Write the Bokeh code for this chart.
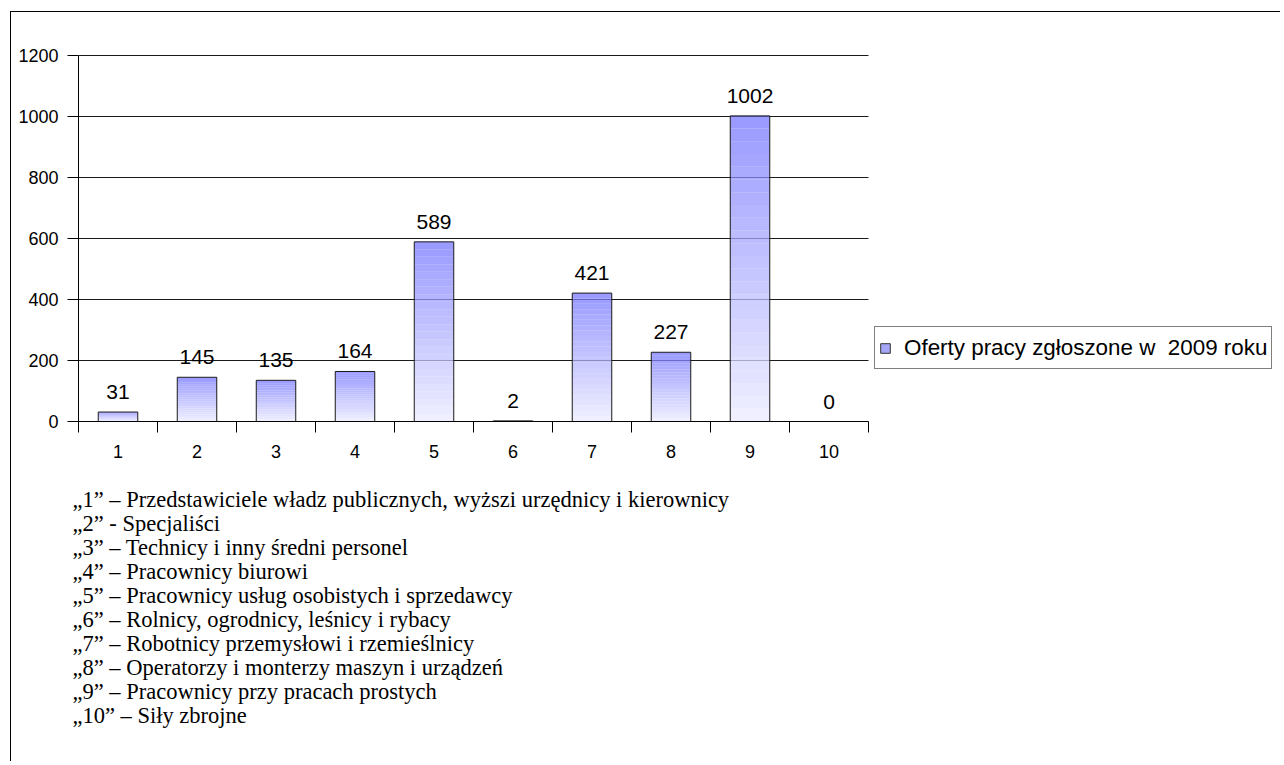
from bokeh.plotting import figure
from bokeh.models import (ColumnDataSource, LabelSet, Legend, LegendItem,
                          FixedTicker, Title)
from bokeh.embed import file_html
from bokeh.resources import INLINE
from bokeh.core.properties import value

# ---------------- data ----------------
categories = [1, 2, 3, 4, 5, 6, 7, 8, 9, 10]
offers = [31, 145, 135, 164, 589, 2, 421, 227, 1002, 0]
series_name = "Oferty pracy zgłoszone w  2009 roku"
y_ticks = [0, 200, 400, 600, 800, 1000, 1200]
descriptions = [
    "„1” – Przedstawiciele władz publicznych, wyższi urzędnicy i kierownicy",
    "„2” - Specjaliści",
    "„3” – Technicy i inny średni personel",
    "„4” – Pracownicy biurowi",
    "„5” – Pracownicy usług osobistych i sprzedawcy",
    "„6” – Rolnicy, ogrodnicy, leśnicy i rybacy",
    "„7” – Robotnicy przemysłowi i rzemieślnicy",
    "„8” – Operatorzy i monterzy maszyn i urządzeń",
    "„9” – Pracownicy przy pracach prostych",
    "„10” – Siły zbrojne",
]

# ---------------- layout (page pixels) ----------------
OX, OY = 11, 12                     # canvas origin on the page (margin + border)
W, H = 1270, 750
AX_L, AX_R, AX_T, AX_B = 78, 868, 55, 421   # plot area of the bar chart
PAD_T = 10                          # extra room above the top gridline
ymin, ymax = y_ticks[0], y_ticks[-1]
xlo, xhi = categories[0] - 0.5, categories[-1] + 0.5
px_per_cat = (AX_R - AX_L) / (xhi - xlo)
px_per_unit = (AX_B - AX_T) / (ymax - ymin)
frame_w = W - (AX_L - OX)

p = figure(width=W, height=H,
           x_range=(xlo, xlo + frame_w / px_per_cat),
           y_range=(ymin, ymax + PAD_T / px_per_unit),
           output_backend="svg", toolbar_location=None, title=None,
           min_border_left=AX_L - OX, min_border_right=0,
           min_border_top=AX_T - OY - PAD_T, min_border_bottom=H - (AX_B - OY))
p.outline_line_color = None
p.background_fill_color = "white"
p.border_fill_color = "white"
p.styles = {"margin-left": "10px", "margin-top": "11px",
            "border-left": "1px solid black", "border-top": "1px solid black"}

# horizontal gridlines limited to the category span
p.segment(x0=[xlo] * len(y_ticks), x1=[xhi] * len(y_ticks), y0=y_ticks, y1=y_ticks,
          line_color="#1a1a1a", line_width=1)
p.xgrid.visible = False
p.ygrid.visible = False

# gradient bars (sliced)
N = 24
top_c = (119, 119, 255)
bot_c = (235, 235, 255)
xs, bots, tops, cols = [], [], [], []
for c, v in zip(categories, offers):
    for k in range(N):
        t = (k + 0.5) / N
        rgb = tuple(int(round(b + (tc - b) * t)) for b, tc in zip(bot_c, top_c))
        xs.append(c)
        bots.append(v * k / N)
        tops.append(v * (k + 1) / N)
        cols.append("#%02x%02x%02x" % rgb)
p.vbar(x=xs, bottom=bots, top=tops, width=0.5, fill_color=cols,
       fill_alpha=0.75, line_color=None)
p.vbar(x=categories, top=offers, width=0.5, fill_color=None,
       line_color="#1a1a1a", line_width=1)

# hidden renderer that only supplies the legend swatch
leg_r = p.vbar(x=categories, top=offers, width=0.5,
               fill_color="#a6a6f8", line_color="#333333", visible=False)

# data labels
src = ColumnDataSource(dict(x=categories, y=offers, t=[str(v) for v in offers]))
p.add_layout(LabelSet(x="x", y="y", text="t", source=src, y_offset=20,
                      text_align="center", text_baseline="middle",
                      text_font=value("Liberation Sans"), text_font_size="21px",
                      text_color="black"))

# axes
p.xaxis.ticker = FixedTicker(ticks=categories,
                             minor_ticks=[c - 0.5 for c in categories] + [xhi])
p.xaxis.bounds = (xlo, xhi)
p.xaxis.major_tick_out = 0
p.xaxis.major_tick_in = 0
p.xaxis.minor_tick_out = 11
p.xaxis.minor_tick_in = 0
p.xaxis.minor_tick_line_color = "black"
p.xaxis.major_label_standoff = 12

p.yaxis.ticker = FixedTicker(ticks=y_ticks)
p.yaxis.bounds = (ymin, ymax)
p.yaxis.major_tick_out = 11
p.yaxis.major_tick_in = 0
p.yaxis.minor_tick_out = 0
p.yaxis.minor_tick_in = 0
p.yaxis.major_label_standoff = 9

for ax in (p.xaxis, p.yaxis):
    ax.axis_line_color = "black"
    ax.major_tick_line_color = "black"
    ax.major_label_text_font = "Liberation Sans"
    ax.major_label_text_font_size = "18px"
    ax.major_label_text_color = "black"

# legend (inside the wide frame, right of the bars); location = bottom-left corner
legend = Legend(items=[LegendItem(label=series_name, renderers=[leg_r])],
                location=(874 - AX_L, AX_B - 369),
                border_line_color="black", border_line_width=1,
                background_fill_color="white", background_fill_alpha=1,
                inactive_fill_alpha=0,
                padding=4, margin=0, spacing=0,
                glyph_width=12, glyph_height=12, label_standoff=13,
                label_height=33,
                label_text_font="Liberation Sans",
                label_text_font_size="22.4px",
                label_text_color="black")
p.add_layout(legend)

# description lines below the axis
FS = 22.5
h_txt = 1.1 * FS
line_gap = 23.85
s_line = line_gap - 2 - h_txt
p.add_layout(Title(text=" ", align="left", offset=0,
                   standoff=25.95 - 2 - h_txt,
                   text_font="Liberation Serif", text_font_size=f"{FS}px",
                   text_font_style="normal"), "below")
for txt in descriptions:
    p.add_layout(Title(text=txt, align="left", offset=72 - AX_L,
                       standoff=s_line,
                       text_font="Liberation Serif", text_font_size=f"{FS}px",
                       text_font_style="normal", text_color="black"), "below")

open("out.html", "w").write(file_html(p, INLINE))
